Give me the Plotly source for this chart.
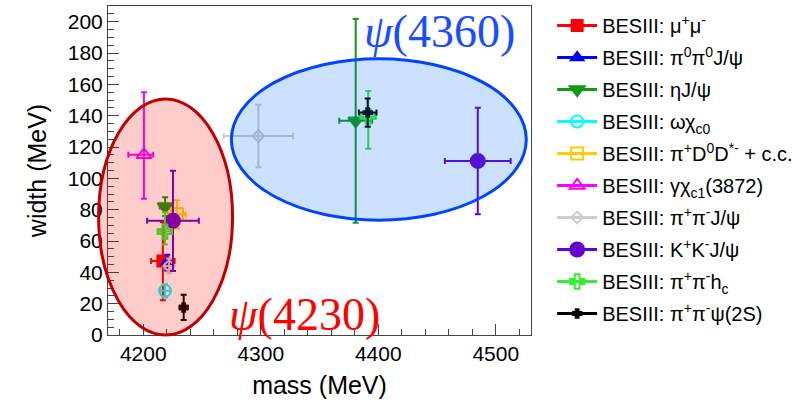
import plotly.graph_objects as go

# ---------------- data ----------------
labels = [
    "BESIII: μ<sup>+</sup>μ<sup>-</sup>",
    "BESIII: π<sup>0</sup>π<sup>0</sup>J/ψ",
    "BESIII: ηJ/ψ",
    "BESIII: ωχ<sub>c0</sub>",
    "BESIII: π<sup>+</sup>D<sup>0</sup>D<sup>*-</sup> + c.c.",
    "BESIII: γχ<sub>c1</sub>(3872)",
    "BESIII: π<sup>+</sup>π<sup>-</sup>J/ψ",
    "BESIII: K<sup>+</sup>K<sup>-</sup>J/ψ",
    "BESIII: π<sup>+</sup>π<sup>-</sup>h<sub>c</sub>",
    "BESIII: π<sup>+</sup>π<sup>-</sup>ψ(2S)",
]
mass = [
    [4216.7],
    [4220.4],
    [4218.6, 4380.8],
    [4218.5],
    [4228.6],
    [4200.6],
    [4222.0, 4298.0],
    [4225.3, 4484.7],
    [4218.4, 4391.5],
    [4234.4, 4391.0],
]
width = [
    [47.2],
    [46.2],
    [82.0, 136.7],
    [28.2],
    [77.0],
    [115.0],
    [44.1, 127.0],
    [72.9, 111.1],
    [66.0, 139.5],
    [17.6, 142.0],
]
mass_err_lo = [[10.0], [3.3], [4.5, 14.0], [4.3], [7.5], [13.3], [3.4, 29.5], [22.0, 28.0], [4.5, 6.8], [3.2, 7.5]]
mass_err_hi = [[10.0], [3.3], [4.5, 14.0], [4.3], [7.5], [7.9], [3.4, 29.5], [22.0, 28.0], [5.5, 6.3], [3.2, 7.5]]
width_err_lo = [[25.0], [5.0], [6.0, 65.0], [4.2], [9.0], [28.0], [4.7, 20.0], [32.0, 34.0], [8.3, 20.6], [8.1, 9.0]]
width_err_hi = [[25.0], [5.0], [6.0, 65.0], [4.2], [9.0], [40.0], [4.7, 20.0], [32.0, 34.0], [12.3, 16.2], [8.1, 9.0]]

# ---------------- style ----------------
colors = ["#ff0000", "#0000ff", "#119911", "#00ffff", "#ffcc00",
          "#ff00ff", "#cccccc", "#6600cc", "#33ee33", "#000000"]
symbols = ["square", "triangle-up", "triangle-down", "circle-open", "square-open",
           "triangle-up-open", "diamond-open", "circle", "cross-open", "cross"]
sizes = [11, 11, 13, 12, 12, 13, 9, 14, 12, 7]

XR = [4170, 4530]
YR = [0, 210]

fig = go.Figure()

for i, lab in enumerate(labels):
    c = colors[i]
    fig.add_trace(go.Scatter(
        x=mass[i], y=width[i], mode="markers", showlegend=False,
        marker=dict(symbol=symbols[i], size=sizes[i], color=c,
                    line=dict(color=c, width=2)),
        error_x=dict(type="data", symmetric=False, array=mass_err_hi[i],
                     arrayminus=mass_err_lo[i], color=c, thickness=2, width=3),
        error_y=dict(type="data", symmetric=False, array=width_err_hi[i],
                     arrayminus=width_err_lo[i], color=c, thickness=2, width=3),
        hoverinfo="skip",
    ))

for i, lab in enumerate(labels):
    c = colors[i]
    fig.add_trace(go.Scatter(
        x=[None], y=[None], mode="lines+markers", name=lab,
        legendgroup=f"g{i}",
        marker=dict(symbol=symbols[i], size=sizes[i], color=c,
                    line=dict(color=c, width=2)),
        line=dict(color=c, width=3),
    ))

# ellipses (in data units, converted to paper so they are not clipped)
def px(v):
    return (v - XR[0]) / (XR[1] - XR[0])

def py(v):
    return (v - YR[0]) / (YR[1] - YR[0])

ell_red = dict(x0=4162, x1=4276, y0=0, y1=150.6)
ell_blue = dict(x0=4275, x1=4526, y0=73.3, y1=176.3)

fig.add_shape(type="circle", xref="paper", yref="paper",
              x0=px(ell_red["x0"]), x1=px(ell_red["x1"]),
              y0=py(ell_red["y0"]), y1=py(ell_red["y1"]),
              fillcolor="rgba(255,0,0,0.2)", line=dict(color="#c00000", width=3),
              layer="above")
fig.add_shape(type="circle", xref="paper", yref="paper",
              x0=px(ell_blue["x0"]), x1=px(ell_blue["x1"]),
              y0=py(ell_blue["y0"]), y1=py(ell_blue["y1"]),
              fillcolor="rgba(0,100,255,0.2)", line=dict(color="#0044ff", width=3),
              layer="above")

fig.add_annotation(x=4452, y=194, xref="x", yref="y", showarrow=False,
                   text="<i>ψ</i>(4360)",
                   font=dict(family="Liberation Serif", size=46, color="#1a4dff"))
fig.add_annotation(x=4337, y=13, xref="x", yref="y", showarrow=False,
                   text="<i>ψ</i>(4230)",
                   font=dict(family="Liberation Serif", size=46, color="#ff0000"))

axis_common = dict(
    showgrid=False, zeroline=False, showline=True, linecolor="#444444",
    linewidth=1, mirror=True, ticks="inside", tickcolor="#444444",
    ticklen=11, tickwidth=1,
    tickfont=dict(family="Liberation Sans", size=21, color="black"),
)

fig.update_layout(
    width=807, height=404,
    margin=dict(l=108, r=276, t=6, b=69),
    paper_bgcolor="white", plot_bgcolor="white",
    font=dict(family="Liberation Sans", color="black"),
    xaxis=dict(range=XR, dtick=100, tick0=4200,
               minor=dict(dtick=20, ticks="inside", ticklen=6, tickcolor="#444444"),
               title=dict(text="mass (MeV)", font=dict(size=25), standoff=12),
               **axis_common),
    yaxis=dict(range=YR, dtick=20, tick0=0,
               minor=dict(dtick=5, ticks="inside", ticklen=6, tickcolor="#444444"),
               title=dict(text="width (MeV)", font=dict(size=25), standoff=14),
               **axis_common),
    legend=dict(x=1.05, y=1.0, xanchor="left", yanchor="top",
                font=dict(family="Liberation Sans", size=20, color="black"),
                bgcolor="rgba(0,0,0,0)", tracegroupgap=3, itemwidth=40),
)

fig.write_html("out.html")
